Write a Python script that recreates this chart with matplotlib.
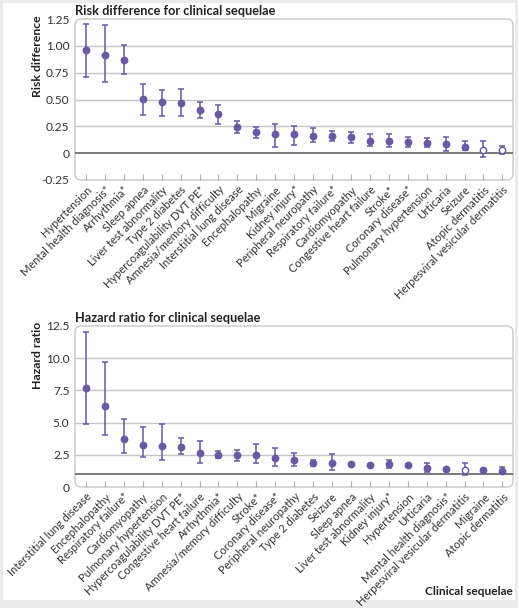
import matplotlib.pyplot as plt
import numpy as np
from matplotlib.patches import FancyBboxPatch, Rectangle

plt.rcParams['font.family'] = ['Lato', 'DejaVu Sans']

# risk difference panel
rd_labels = ['Hypertension', 'Mental health diagnosis*', 'Arrhythmia*', 'Sleep apnea',
             'Liver test abnormality', 'Type 2 diabetes', 'Hypercoagulability DVT PE*',
             'Amnesia/memory difficulty', 'Interstitial lung disease', 'Encephalopathy',
             'Migraine', 'Kidney injury*', 'Peripheral neuropathy', 'Respiratory failure*',
             'Cardiomyopathy', 'Congestive heart failure', 'Stroke*', 'Coronary disease*',
             'Pulmonary hypertension', 'Urticaria', 'Seizure', 'Atopic dermatitis',
             'Herpesviral vesicular dermatitis']
rd_est = [0.963, 0.919, 0.867, 0.503, 0.475, 0.466, 0.401, 0.369, 0.245, 0.196,
          0.177, 0.174, 0.161, 0.158, 0.152, 0.118, 0.112, 0.105, 0.099, 0.087,
          0.062, 0.034, 0.028]
rd_low = [0.708, 0.664, 0.736, 0.354, 0.345, 0.345, 0.326, 0.270, 0.189, 0.145,
          0.062, 0.075, 0.102, 0.115, 0.099, 0.065, 0.059, 0.053, 0.062, 0.019,
          0.031, -0.040, -0.004]
rd_high = [1.205, 1.196, 1.006, 0.646, 0.593, 0.596, 0.478, 0.453, 0.304, 0.242,
           0.276, 0.254, 0.233, 0.208, 0.196, 0.183, 0.174, 0.155, 0.140, 0.146,
           0.109, 0.109, 0.068]
rd_open = ['Atopic dermatitis', 'Herpesviral vesicular dermatitis']

# hazard ratio panel
hr_labels = ['Interstitial lung disease', 'Encephalopathy', 'Respiratory failure*',
             'Cardiomyopathy', 'Pulmonary hypertension', 'Hypercoagulability DVT PE*',
             'Congestive heart failure', 'Arrhythmia*', 'Amnesia/memory difficulty',
             'Stroke*', 'Coronary disease*', 'Peripheral neuropathy', 'Type 2 diabetes',
             'Seizure', 'Sleep apnea', 'Liver test abnormality', 'Kidney injury*',
             'Hypertension', 'Urticaria', 'Mental health diagnosis*',
             'Herpesviral vesicular dermatitis', 'Migraine', 'Atopic dermatitis']
hr_est = [7.70, 6.26, 3.73, 3.25, 3.19, 3.14, 2.63, 2.50, 2.50, 2.50, 2.24, 2.09,
          1.85, 1.83, 1.80, 1.72, 1.75, 1.70, 1.44, 1.39, 1.31, 1.31, 1.26]
hr_low = [4.92, 4.02, 2.63, 2.34, 2.09, 2.55, 1.90, 2.24, 2.03, 1.83, 1.65, 1.60,
          1.62, 1.29, 1.70, 1.62, 1.44, 1.62, 1.13, 1.33, 0.93, 1.25, 1.05]
hr_high = [12.03, 9.74, 5.31, 4.64, 4.92, 3.84, 3.60, 2.81, 2.91, 3.32, 3.06, 2.65,
           2.11, 2.58, 1.90, 1.82, 2.06, 1.78, 1.83, 1.46, 1.88, 1.38, 1.52]
hr_open = ['Herpesviral vesicular dermatitis']

purple = '#6a57a6'
W, H = 518, 608
fig = plt.figure(figsize=(W / 100, H / 100), dpi=100)
fig.patch.set_facecolor('#ebebeb')
fig.patches.append(Rectangle((3 / W, 1 - 600 / H), 512 / W, 597 / H,
                             transform=fig.transFigure, facecolor='white',
                             edgecolor='none', zorder=-10))


def panel(rect, labels, est, low, high, open_labels, ylim, yticks, yticklabels,
          refline, title, ylabel):
    axw = rect[2] - rect[0]
    axh = rect[3] - rect[1]
    ax = fig.add_axes([rect[0] / W, 1 - rect[3] / H, axw / W, axh / H])
    ax.set_facecolor('none')
    x = np.arange(len(labels))
    for spine in ax.spines.values():
        spine.set_visible(False)
    box = FancyBboxPatch((rect[0] / W, 1 - rect[3] / H), axw / W, axh / H,
                         boxstyle='round,pad=0,rounding_size=0.012',
                         transform=fig.transFigure, facecolor='none',
                         edgecolor='#c8c8c8', lw=1, zorder=-5,
                         mutation_aspect=W / H)
    fig.patches.append(box)
    for t in yticks:
        if t not in (ylim[0], ylim[1], refline):
            ax.axhline(t, color='#c4c4c4', lw=1, zorder=1)
    ax.axhline(refline, color='#555555', lw=1.1, zorder=1)
    est = np.array(est)
    err = [est - np.array(low), np.array(high) - est]
    ax.errorbar(x, est, yerr=err, fmt='none', ecolor=purple, elinewidth=1.1,
                capsize=2.2, capthick=1.1, zorder=2)
    filled = [l not in open_labels for l in labels]
    for xi, yi, f in zip(x, est, filled):
        ax.plot(xi, yi, 'o', ms=4.6, mfc=purple if f else 'white', mec=purple,
                mew=1, zorder=3)
    ax.set_xlim(-0.58, len(labels) - 1 + 0.56)
    ax.set_ylim(*ylim)
    ax.set_yticks(yticks)
    ax.set_yticklabels(yticklabels, fontsize=8.6, color='#333333')
    ax.set_xticks(x)
    ax.set_xticklabels(labels, rotation=45, ha='right', rotation_mode='anchor',
                       fontsize=8, color='#333333')
    ax.tick_params(axis='y', length=0, pad=4)
    ax.tick_params(axis='x', direction='in', length=4, color='#b0b0b0', pad=3)
    ax.set_title(title, loc='left', fontsize=9.2, fontweight='bold', pad=3,
                 color='#222222')
    ax.set_ylabel(ylabel, fontsize=8.8, fontweight='bold', color='#222222',
                  ha='right')
    ax.yaxis.set_label_coords((43 - rect[0]) / axw, 1 + 4 / axh)
    return ax


panel((75, 19, 513, 180), rd_labels, rd_est, rd_low, rd_high, rd_open,
      (-0.25, 1.25), [-0.25, 0, 0.25, 0.5, 0.75, 1.0, 1.25],
      ['-0.25', '0', '0.25', '0.50', '0.75', '1.00', '1.25'], 0,
      'Risk difference for clinical sequelae', 'Risk difference')

panel((75, 326, 513, 487), hr_labels, hr_est, hr_low, hr_high, hr_open,
      (0, 12.5), [0, 2.5, 5, 7.5, 10, 12.5],
      ['0', '2.5', '5.0', '7.5', '10.0', '12.5'], 1,
      'Hazard ratio for clinical sequelae', 'Hazard ratio')

fig.text(513 / W, 1 - 595 / H, 'Clinical sequelae', ha='right', va='baseline',
         fontsize=8.6, fontweight='bold', color='#222222')

fig.savefig('out.png', dpi=100, facecolor=fig.get_facecolor())
